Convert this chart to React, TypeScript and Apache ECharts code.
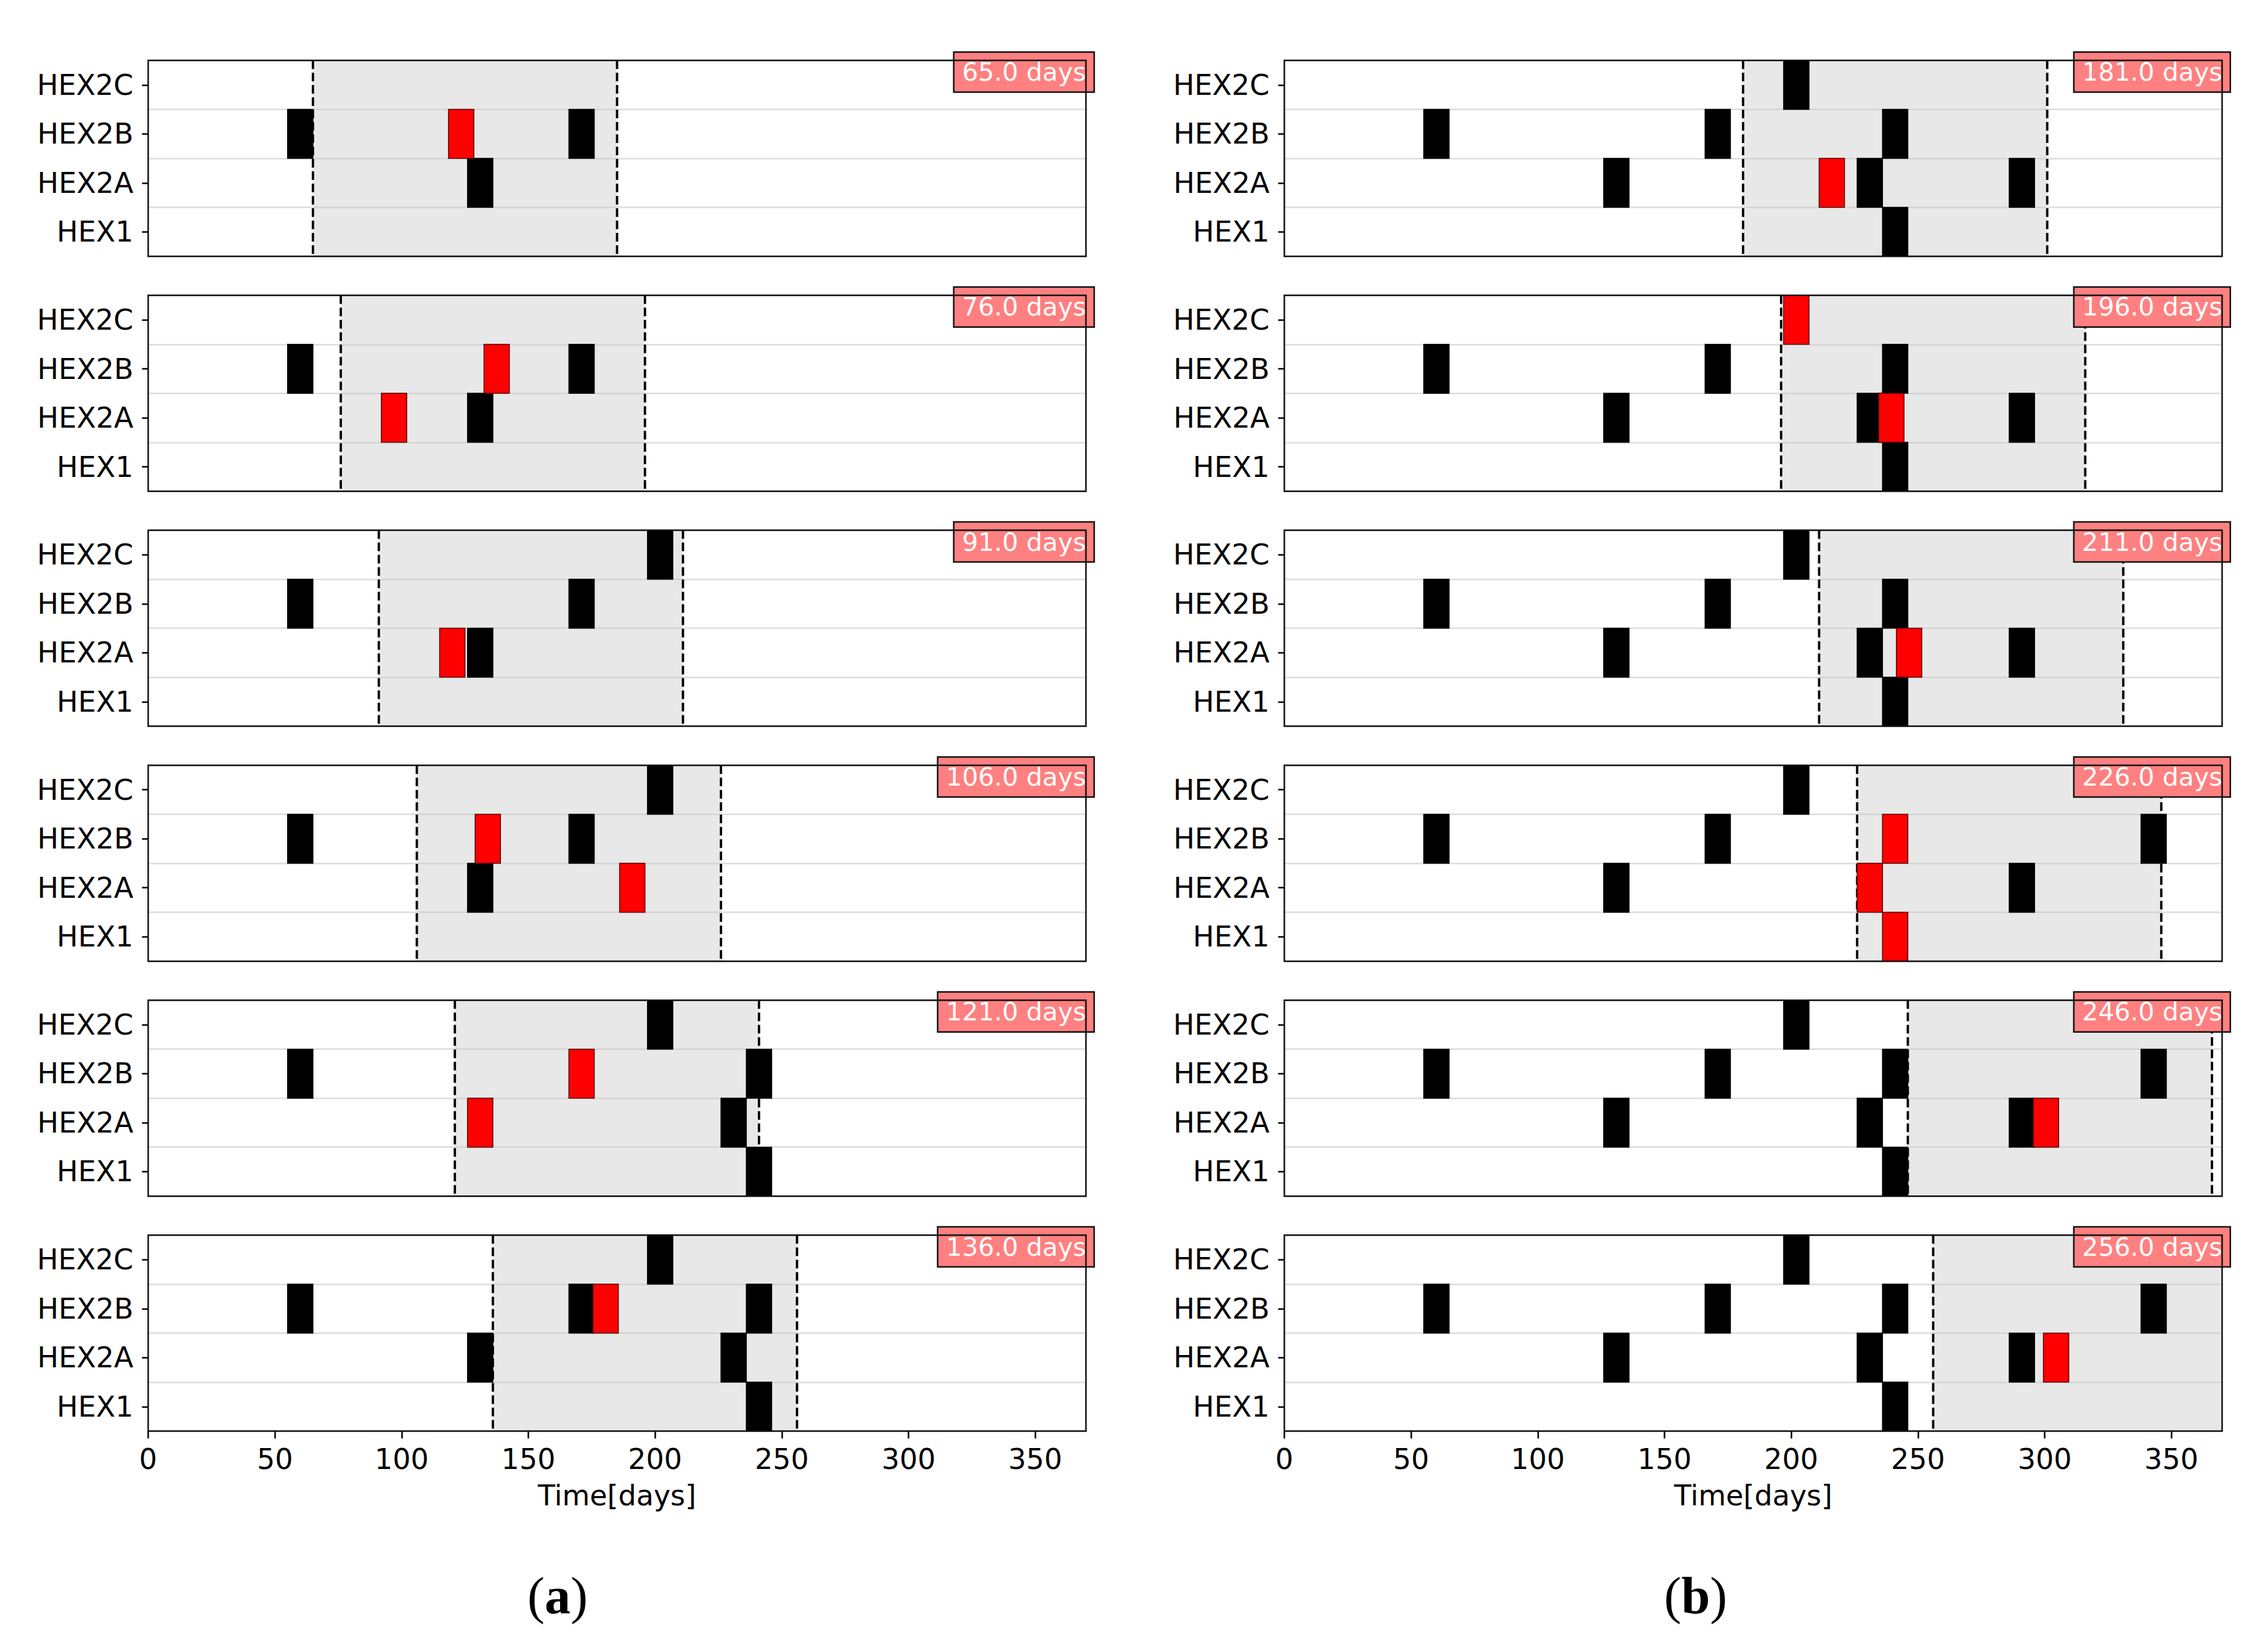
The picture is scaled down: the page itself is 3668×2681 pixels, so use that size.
import React, { useEffect, useRef } from 'react';
import * as echarts from 'echarts';

// ---------- data ----------
const ROWS = ['HEX1', 'HEX2A', 'HEX2B', 'HEX2C'];
const X_TICKS = [0, 50, 100, 150, 200, 250, 300, 350];
const X_MAX = 370;
const WINDOW_LENGTH = 120;

const windowStartsA = [65, 76, 91, 106, 121, 136];
const windowStartsB = [181, 196, 211, 226, 246, 256];

// [row, start, end]
const blackA1 = [['HEX2B', 55, 65], ['HEX2B', 166, 176], ['HEX2A', 126, 136]];
const redA1 = [['HEX2B', 118.5, 128.5]];
const blackA2 = [['HEX2B', 55, 65], ['HEX2B', 166, 176], ['HEX2A', 126, 136]];
const redA2 = [['HEX2B', 132.5, 142.5], ['HEX2A', 92, 102]];
const blackA3 = [['HEX2C', 197, 207], ['HEX2B', 55, 65], ['HEX2B', 166, 176], ['HEX2A', 126, 136]];
const redA3 = [['HEX2A', 115, 125]];
const blackA4 = [['HEX2C', 197, 207], ['HEX2B', 55, 65], ['HEX2B', 166, 176], ['HEX2A', 126, 136]];
const redA4 = [['HEX2B', 129, 139], ['HEX2A', 186, 196]];
const blackA5 = [['HEX2C', 197, 207], ['HEX2B', 55, 65], ['HEX2B', 236, 246], ['HEX2A', 226, 236], ['HEX1', 236, 246]];
const redA5 = [['HEX2B', 166, 176], ['HEX2A', 126, 136]];
const blackA6 = [['HEX2C', 197, 207], ['HEX2B', 55, 65], ['HEX2B', 166, 176], ['HEX2B', 236, 246], ['HEX2A', 126, 136], ['HEX2A', 226, 236], ['HEX1', 236, 246]];
const redA6 = [['HEX2B', 175.5, 185.5]];

const blackB1 = [['HEX2C', 197, 207], ['HEX2B', 55, 65], ['HEX2B', 166, 176], ['HEX2B', 236, 246], ['HEX2A', 126, 136], ['HEX2A', 226, 236], ['HEX2A', 286, 296], ['HEX1', 236, 246]];
const redB1 = [['HEX2A', 211, 221]];
const blackB2 = [['HEX2B', 55, 65], ['HEX2B', 166, 176], ['HEX2B', 236, 246], ['HEX2A', 126, 136], ['HEX2A', 226, 236], ['HEX2A', 286, 296], ['HEX1', 236, 246]];
const redB2 = [['HEX2C', 197, 207], ['HEX2A', 234.5, 244.5]];
const blackB3 = [['HEX2C', 197, 207], ['HEX2B', 55, 65], ['HEX2B', 166, 176], ['HEX2B', 236, 246], ['HEX2A', 126, 136], ['HEX2A', 226, 236], ['HEX2A', 286, 296], ['HEX1', 236, 246]];
const redB3 = [['HEX2A', 241.5, 251.5]];
const blackB4 = [['HEX2C', 197, 207], ['HEX2B', 55, 65], ['HEX2B', 166, 176], ['HEX2B', 338, 348], ['HEX2A', 126, 136], ['HEX2A', 286, 296]];
const redB4 = [['HEX2B', 236, 246], ['HEX2A', 226, 236], ['HEX1', 236, 246]];
const blackB5 = [['HEX2C', 197, 207], ['HEX2B', 55, 65], ['HEX2B', 166, 176], ['HEX2B', 236, 246], ['HEX2B', 338, 348], ['HEX2A', 126, 136], ['HEX2A', 226, 236], ['HEX2A', 286, 296], ['HEX1', 236, 246]];
const redB5 = [['HEX2A', 295.5, 305.5]];
const blackB6 = [['HEX2C', 197, 207], ['HEX2B', 55, 65], ['HEX2B', 166, 176], ['HEX2B', 236, 246], ['HEX2B', 338, 348], ['HEX2A', 126, 136], ['HEX2A', 226, 236], ['HEX2A', 286, 296], ['HEX1', 236, 246]];
const redB6 = [['HEX2A', 299.5, 309.5]];

const blackPanelsA = [blackA1, blackA2, blackA3, blackA4, blackA5, blackA6];
const redPanelsA = [redA1, redA2, redA3, redA4, redA5, redA6];
const blackPanelsB = [blackB1, blackB2, blackB3, blackB4, blackB5, blackB6];
const redPanelsB = [redB1, redB2, redB3, redB4, redB5, redB6];

// ---------- layout ----------
const W = 3668;
const H = 2681;
const COL_LEFT = [240.5, 2084.5];
const GRID_W = 1522;
const GRID_TOP0 = 98;
const ROW_STEP = 381.3;
const GRID_H = 318;
const FONT = 'DejaVu Sans';

function toBlockData(black: any[], red: any[]) {
  return [
    ...black.map(([r, s, e]) => [s, e, ROWS.indexOf(r), 0]),
    ...red.map(([r, s, e]) => [s, e, ROWS.indexOf(r), 1]),
  ];
}

function buildOption() {
  const grids: any[] = [];
  const xAxes: any[] = [];
  const yAxes: any[] = [];
  const series: any[] = [];
  const titles: any[] = [];
  const graphics: any[] = [];

  const cols = [
    { starts: windowStartsA, black: blackPanelsA, red: redPanelsA },
    { starts: windowStartsB, black: blackPanelsB, red: redPanelsB },
  ];

  cols.forEach((col, c) => {
    col.starts.forEach((start, r) => {
      const idx = grids.length;
      const left = COL_LEFT[c];
      const top = GRID_TOP0 + ROW_STEP * r;
      const isBottom = r === col.starts.length - 1;
      grids.push({ left, top, width: GRID_W, height: GRID_H, containLabel: false });
      xAxes.push({
        type: 'value',
        gridIndex: idx,
        min: 0,
        max: X_MAX,
        interval: 50,
        axisLine: { show: false },
        splitLine: { show: false },
        axisTick: {
          show: isBottom,
          length: 12,
          customValues: X_TICKS,
          lineStyle: { color: '#000', width: 2.5 },
        },
        axisLabel: {
          show: isBottom,
          customValues: X_TICKS,
          fontSize: 46,
          color: '#000',
          fontFamily: FONT,
          margin: 22,
        },
        name: isBottom ? 'Time[days]' : '',
        nameLocation: 'middle',
        nameGap: 81,
        nameTextStyle: { fontSize: 46, color: '#000', fontFamily: FONT },
      });
      yAxes.push({
        type: 'category',
        gridIndex: idx,
        data: ROWS,
        axisLine: { show: false },
        axisTick: {
          show: true,
          alignWithLabel: true,
          length: 10,
          lineStyle: { color: '#000', width: 2.5 },
        },
        axisLabel: { fontSize: 46, color: '#000', fontFamily: FONT, margin: 24, interval: 0 },
        splitLine: { show: true, lineStyle: { color: '#dcdcdc', width: 2.5 } },
      });
      // analysis window (shaded + dashed borders)
      series.push({
        type: 'custom',
        xAxisIndex: idx,
        yAxisIndex: idx,
        z: 1,
        silent: true,
        clip: true,
        encode: { x: [0, 1], y: 2 },
        data: [[start, start + WINDOW_LENGTH, 0]],
        renderItem: (params: any, api: any) => {
          const cs = params.coordSys;
          const a = api.coord([api.value(0), 0])[0];
          const b = api.coord([api.value(1), 0])[0];
          const dash = { stroke: '#000', lineWidth: 3.8, lineDash: [14, 6] };
          return {
            type: 'group',
            children: [
              { type: 'rect', shape: { x: a, y: cs.y, width: b - a, height: cs.height }, style: { fill: 'rgba(200,200,200,0.42)' } },
              { type: 'line', shape: { x1: a, y1: cs.y, x2: a, y2: cs.y + cs.height }, style: dash },
              { type: 'line', shape: { x1: b, y1: cs.y, x2: b, y2: cs.y + cs.height }, style: dash },
            ],
          };
        },
      });
      // maintenance blocks
      series.push({
        type: 'custom',
        xAxisIndex: idx,
        yAxisIndex: idx,
        z: 3,
        silent: true,
        encode: { x: [0, 1], y: 2 },
        data: toBlockData(col.black[r], col.red[r]),
        renderItem: (params: any, api: any) => {
          const row = api.value(2);
          const s = api.coord([api.value(0), row]);
          const e = api.coord([api.value(1), row]);
          const h = api.size([0, 1])[1];
          const isRed = api.value(3) === 1;
          return {
            type: 'rect',
            shape: { x: s[0], y: s[1] - h / 2, width: e[0] - s[0], height: h },
            style: {
              fill: isRed ? '#ff0000' : '#000000',
              stroke: isRed ? '#5a0000' : '#000000',
              lineWidth: 1.5,
            },
          };
        },
      });
      // frame
      graphics.push({
        type: 'rect',
        z: 100,
        silent: true,
        shape: { x: left, y: top, width: GRID_W, height: GRID_H },
        style: { fill: 'none', stroke: '#111', lineWidth: 2.5 },
      });
      // window-start badge
      titles.push({
        text: `${start.toFixed(1)} days`,
        right: W - (left + GRID_W + 14),
        top: top - 14,
        padding: [9, 14, 9, 14],
        backgroundColor: '#ff8080',
        borderColor: '#111',
        borderWidth: 2.5,
        z: 20,
        textStyle: { color: '#fff', fontSize: 41, fontWeight: 'normal', fontFamily: FONT, lineHeight: 48 },
      });
    });
  });

  const panelLabels = [
    { letter: 'a', x: 905 },
    { letter: 'b', x: 2752 },
  ];
  panelLabels.forEach((p) => {
    graphics.push({
      type: 'text',
      x: p.x,
      y: 2589,
      z: 100,
      silent: true,
      style: {
        text: `{p|(}{l|${p.letter}}{p|)}`,
        align: 'center',
        verticalAlign: 'middle',
        fill: '#000',
        rich: {
          p: { fontFamily: 'Liberation Serif', fontSize: 84, fill: '#000' },
          l: { fontFamily: 'Liberation Serif', fontSize: 84, fontWeight: 'bold', fill: '#000' },
        },
      },
    });
  });

  return {
    animation: false,
    backgroundColor: '#ffffff',
    title: titles,
    grid: grids,
    xAxis: xAxes,
    yAxis: yAxes,
    series,
    graphic: graphics,
  };
}

export default function App() {
  const ref = useRef<HTMLDivElement>(null);
  useEffect(() => {
    if (!ref.current) return;
    const chart = echarts.init(ref.current, undefined, { renderer: 'svg' });
    chart.setOption(buildOption() as any);
    return () => chart.dispose();
  }, []);
  return (
    <div
      ref={ref}
      style={{ position: 'fixed', left: 0, top: 0, width: W, height: H, background: '#fff' }}
    />
  );
}
